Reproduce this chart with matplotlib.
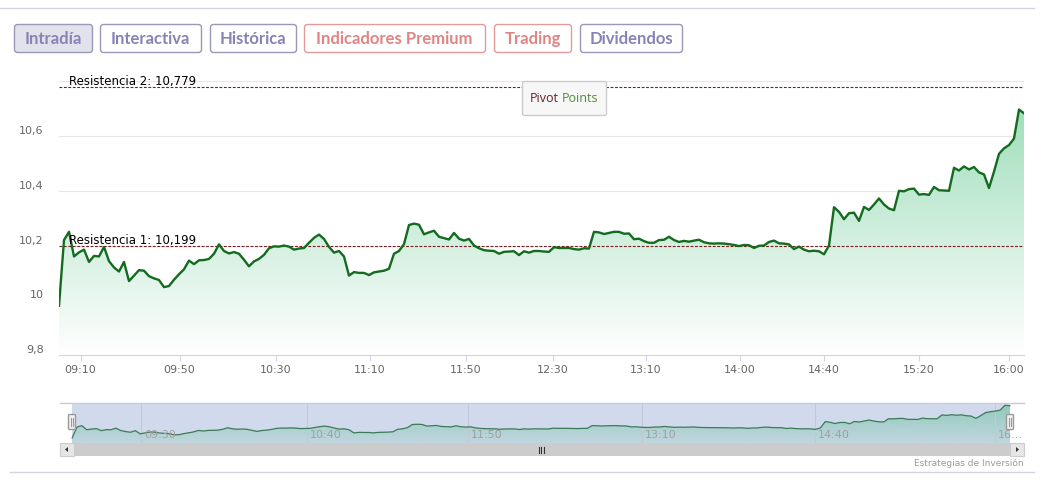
import numpy as np
import matplotlib
matplotlib.use('Agg')
import matplotlib.pyplot as plt
from matplotlib.patches import FancyBboxPatch, Polygon
from matplotlib.lines import Line2D
from matplotlib.transforms import IdentityTransform

W, H = 1042, 480

# intraday price, one value per (ordinal) sample
price = [
    9.98, 10.22, 10.25, 10.16, 10.175, 10.185, 10.14, 10.162, 10.16, 10.195,
    10.143, 10.12, 10.105, 10.14, 10.07, 10.09, 10.11, 10.108, 10.088, 10.08,
    10.074, 10.048, 10.052, 10.075, 10.095, 10.113, 10.145, 10.132, 10.146, 10.147,
    10.151, 10.17, 10.204, 10.18, 10.171, 10.176, 10.17, 10.148, 10.124, 10.142,
    10.151, 10.166, 10.19, 10.197, 10.196, 10.2, 10.196, 10.185, 10.189, 10.191,
    10.21, 10.228, 10.24, 10.224, 10.195, 10.174, 10.18, 10.16, 10.09, 10.103,
    10.1, 10.1, 10.092, 10.102, 10.105, 10.108, 10.115, 10.17, 10.18, 10.205,
    10.275, 10.28, 10.276, 10.241, 10.248, 10.254, 10.232, 10.227, 10.222, 10.246,
    10.225, 10.218, 10.224, 10.2, 10.19, 10.183, 10.181, 10.18, 10.17, 10.177,
    10.178, 10.179, 10.165, 10.179, 10.174, 10.18, 10.18, 10.178, 10.177, 10.194,
    10.191, 10.191, 10.191, 10.187, 10.185, 10.19, 10.189, 10.25, 10.248, 10.242,
    10.246, 10.25, 10.25, 10.243, 10.244, 10.223, 10.225, 10.216, 10.21, 10.21,
    10.22, 10.221, 10.232, 10.22, 10.213, 10.217, 10.214, 10.218, 10.221, 10.212,
    10.208, 10.207, 10.208, 10.207, 10.205, 10.202, 10.198, 10.202, 10.201, 10.191,
    10.199, 10.2, 10.213, 10.218, 10.208, 10.207, 10.204, 10.187, 10.196, 10.185,
    10.179, 10.181, 10.179, 10.168, 10.2, 10.34, 10.323, 10.296, 10.318, 10.32,
    10.29, 10.341, 10.33, 10.35, 10.372, 10.35, 10.335, 10.329, 10.4, 10.398,
    10.406, 10.408, 10.386, 10.388, 10.385, 10.414, 10.402, 10.401, 10.4, 10.484,
    10.474, 10.489, 10.478, 10.487, 10.467, 10.46, 10.41, 10.47, 10.535, 10.555,
    10.567, 10.591, 10.697, 10.683,
]

# where the time labels fall along the ordinal series
time_ticks = [4.3, 24.1, 43.3, 62.1, 81.3, 98.7, 117.3, 136.1, 152.9, 172.0, 189.9]
time_labels = ['09:10', '09:50', '10:30', '11:10', '11:50', '12:30',
               '13:10', '14:00', '14:40', '15:20', '16:00']
nav_ticks = [14.2, 48.4, 81.5, 117.3, 152.9, 189.9]
nav_labels = ['09:30', '10:40', '11:50', '13:10', '14:40', '16…']

y_ticks = [9.8, 10.0, 10.2, 10.4, 10.6, 10.8]
y_labels = ['9,8', '10', '10,2', '10,4', '10,6', '']

resist_levels = [10.199, 10.779]
resist_labels = ['Resistencia 1: 10,199', 'Resistencia 2: 10,779']

buttons = ['Intradía', 'Interactiva', 'Histórica', 'Indicadores Premium', 'Trading', 'Dividendos']

n = len(price)
x = np.arange(n)

fig = plt.figure(figsize=(W / 100, H / 100), dpi=100)
fig.patch.set_facecolor('white')
PX = IdentityTransform()


def px_rect(x0, y0, x1, y1, **kw):
    # rectangle given in image pixels (y down)
    p = FancyBboxPatch((x0, H - y1), x1 - x0, y1 - y0, transform=PX, **kw)
    fig.add_artist(p)
    return p


def px_line(xs, ys, **kw):
    fig.add_artist(Line2D(xs, [H - v for v in ys], transform=PX, **kw))


def px_text(xp, yp, s, **kw):
    fig.text(xp / W, 1 - yp / H, s, **kw)


# frame lines
px_line([0, 1034], [7.5, 7.5], color='#d4d4e2', lw=1)
px_line([10, 1034], [471.5, 471.5], color='#d4d4e2', lw=1)

# buttons
btn_box = [(14, 92), (100, 201), (210, 296), (304, 485), (494, 571), (580, 682)]
btn_col = ['#8883b5', '#8883b5', '#8883b5', '#e08585', '#e08585', '#8883b5']
for i, (lab, (b0, b1)) in enumerate(zip(buttons, btn_box)):
    active = i == 0
    px_rect(b0 + 0.5, 24.5, b1 + 0.5, 52.5,
            boxstyle='round,pad=0,rounding_size=3',
            fc='#e2e2ec' if active else 'white',
            ec='#9a98b8' if btn_col[i] == '#8883b5' else '#e39a9a', lw=1)
    px_text((b0 + b1) / 2, 39, lab, ha='center', va='center', color=btn_col[i],
            fontsize=12, fontweight='bold', family='Lato')

# ---------------- main chart ----------------
ax = fig.add_axes([59 / W, 1 - 355 / H, 965 / W, (355 - 81.3) / H])
ax.set_xlim(0, n - 1)
ax.set_ylim(9.8, 10.8)

poly = ax.fill_between(x, price, 9.8, color='none', lw=0)
g = np.linspace(0, 1, 256)[:, None, None]
top = np.array([150, 218, 180]) / 255
img = 1 + (top - 1) * g
im = ax.imshow(img, extent=[0, n - 1, 9.8, 10.8], origin='lower', aspect='auto',
               zorder=1, interpolation='bilinear')
im.set_clip_path(poly.get_paths()[0], transform=ax.transData)

ax.plot(x, price, color='#146b1f', lw=1.7, zorder=4, solid_joinstyle='round')

for lvl, lab in zip(resist_levels, resist_labels):
    ax.axhline(lvl, color='#7a1a1a', lw=0.8, ls=(0, (2.5, 1.5)), zorder=3)
    ax.annotate(lab, xy=(0, lvl), xycoords=('axes fraction', 'data'),
                xytext=(10, 2), textcoords='offset pixels', ha='left', va='baseline',
                fontsize=8.5, color='black', zorder=5)

ax.set_yticks(y_ticks)
ax.set_yticklabels(y_labels)
ax.set_xticks(time_ticks)
ax.set_xticklabels(time_labels)
ax.grid(axis='y', color='#e6e6e6', lw=0.8)
ax.set_axisbelow(True)
ax.tick_params(axis='y', length=0, pad=11, labelsize=8, labelcolor='#666666')
ax.tick_params(axis='x', length=4, width=0.8, color='#ccd6eb', pad=3,
               labelsize=8, labelcolor='#666666')
for lbl in ax.get_yticklabels():
    lbl.set_va('bottom')
for s in ['top', 'left', 'right']:
    ax.spines[s].set_visible(False)
ax.spines['bottom'].set_color('#ccd6eb')
ax.set_facecolor('none')

# legend box
px_rect(522.5, 81.5, 606.5, 115.5, boxstyle='round,pad=0,rounding_size=2',
        fc='#f7f7f7', ec='#cccccc', lw=1)
px_text(530, 98, 'Pivot', ha='left', va='center', fontsize=9, color='#6b1e1e',
        family='Open Sans')
px_text(562, 98, 'Points', ha='left', va='center', fontsize=9, color='#4e8a3c',
        family='Open Sans')

# ---------------- navigator ----------------
nav = fig.add_axes([60 / W, 1 - 443 / H, 964 / W, 40 / H])
nav.set_xlim(-2.5, n - 1 + 2.9)
nav.set_ylim(9.87, 10.745)
nav.axvspan(0, n - 1, color='#d1daed', lw=0, zorder=0)
npoly = nav.fill_between(x, price, 9.87, color='none', lw=0)
rgba = np.zeros((256, 1, 4))
rgba[..., 0] = 100 / 255
rgba[..., 1] = 190 / 255
rgba[..., 2] = 150 / 255
rgba[..., 3] = np.linspace(0.15, 0.6, 256)[:, None]
nim = nav.imshow(rgba, extent=[0, n - 1, 9.87, 10.745], origin='lower', aspect='auto',
                 zorder=1)
nim.set_clip_path(npoly.get_paths()[0], transform=nav.transData)
nav.plot(x, price, color='#3b7a57', lw=0.9, zorder=3)
for p, lab in zip(nav_ticks, nav_labels):
    nav.axvline(p, color='#c2c8d6', lw=0.8, zorder=2)
    nav.annotate(lab, xy=(p, 0), xycoords=('data', 'axes fraction'), xytext=(3, 3),
                 textcoords='offset pixels', ha='left', va='bottom', fontsize=8,
                 color='#a0a0a0', zorder=4)
nav.set_xticks([])
nav.set_yticks([])
for s in nav.spines.values():
    s.set_visible(False)
px_line([60, 1024], [402.5, 402.5], color='#c8cbd6', lw=1)

# handles
for hx in (72, 1010):
    px_rect(hx - 3.5, 414.5, hx + 3.5, 429.5, boxstyle='round,pad=0,rounding_size=1',
            fc='#f2f2f2', ec='#999999', lw=1)
    px_line([hx - 1, hx - 1], [418, 426], color='#999999', lw=0.8)
    px_line([hx + 1, hx + 1], [418, 426], color='#999999', lw=0.8)

# scrollbar
px_rect(60, 443, 1024, 456, boxstyle='square,pad=0', fc='#cccccc', ec='none')
for b0 in (60, 1010):
    px_rect(b0, 443, b0 + 14, 456, boxstyle='square,pad=0', fc='#e6e6e6', ec='#cccccc', lw=0.8)
fig.add_artist(Polygon([[65, H - 449.5], [68, H - 447], [68, H - 452]], closed=True,
                       transform=PX, fc='#333333', ec='none'))
fig.add_artist(Polygon([[1019, H - 449.5], [1016, H - 447], [1016, H - 452]], closed=True,
                       transform=PX, fc='#333333', ec='none'))
for gx in (538.5, 541, 543.5):
    px_line([gx, gx], [446.5, 452.5], color='#333333', lw=0.8)

px_text(1024, 463, 'Estrategias de Inversión', ha='right', va='center',
        fontsize=6.5, color='#999999')

fig.savefig('out.png', dpi=100, facecolor='white')
